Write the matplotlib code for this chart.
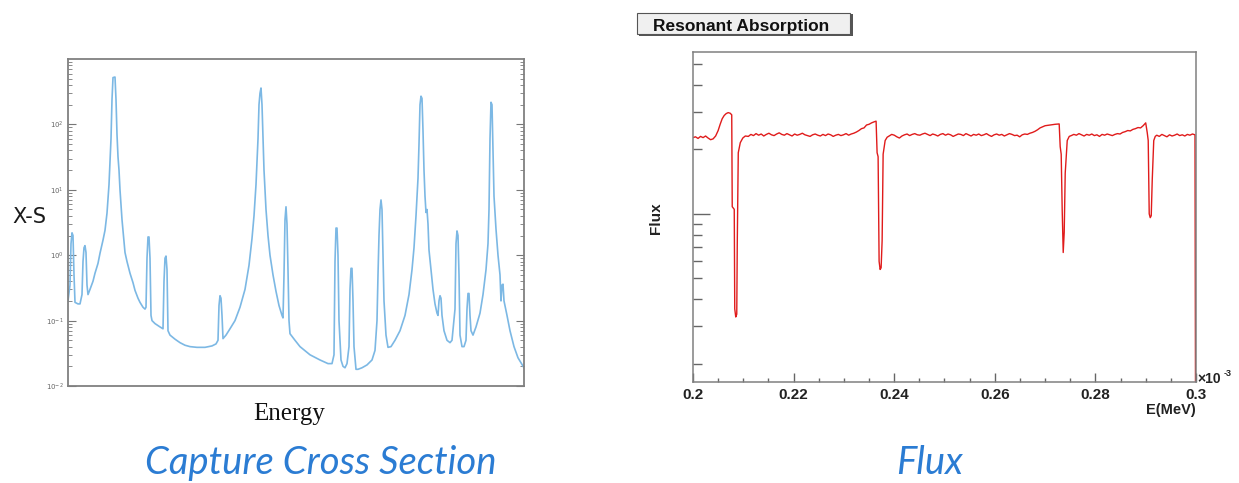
import numpy as np
import matplotlib
matplotlib.use("Agg")
import matplotlib.pyplot as plt
from matplotlib.patches import Rectangle
from matplotlib.ticker import LogLocator, NullFormatter, MultipleLocator, FixedLocator

# ---- capture cross section (arbitrary energy units, log y) ----
xs_energy = [0, 2, 3, 4, 5, 6, 7, 10, 12, 14, 15, 16, 17, 18, 19, 20, 22, 25, 27, 30,
             32, 35, 37, 39, 41, 43, 44, 45, 47, 48, 49, 50, 51, 52, 53, 54, 56, 57, 59, 62,
             65, 67, 70, 72, 75, 77, 78, 79, 80, 81, 82, 83, 84, 87, 92, 95, 96, 97, 98, 99,
             100, 102, 107, 112, 117, 122, 129, 137, 144, 148, 150, 151, 152, 153, 154, 155, 158, 162, 167, 172,
             177, 181, 184, 186, 188, 190, 191, 192, 193, 194, 195, 196, 198, 200, 202, 205, 208, 211, 214, 215,
             216, 217, 218, 219, 220, 221, 222, 227, 232, 242, 252, 260, 264, 266, 267, 268, 269, 270, 271, 273,
             275, 277, 279, 281, 282, 283, 284, 285, 286, 288, 290, 294, 299, 304, 307, 309, 310, 311, 312, 313,
             314, 315, 316, 318, 320, 323, 327, 332, 337, 341, 344, 346, 348, 350, 351, 352, 353, 354, 355, 356,
             357, 358, 359, 360, 361, 363, 365, 367, 369, 370, 371, 372, 373, 374, 376, 379, 382, 384, 387, 388,
             389, 390, 391, 392, 394, 396, 398, 399, 400, 401, 402, 403, 405, 408, 412, 415, 418, 420, 421, 422,
             423, 424, 425, 426, 428, 430, 432, 433, 434, 435, 436, 439, 442, 446, 450, 456]
xs_value = [0.2, 0.35, 1.5, 2.2, 2.0, 0.5, 0.19, 0.18, 0.18, 0.25, 0.8, 1.3, 1.4, 1.1, 0.35, 0.25, 0.3, 0.4, 0.53, 0.75,
            1.07, 1.7, 2.4, 4.4, 12, 60, 240, 520, 530, 240, 70, 32, 20, 10, 6, 3.5, 1.6, 1.1, 0.8, 0.53,
            0.38, 0.29, 0.22, 0.19, 0.16, 0.15, 0.16, 0.9, 1.9, 1.9, 0.9, 0.12, 0.1, 0.09, 0.08, 0.075, 0.4, 0.9, 0.97, 0.6,
            0.07, 0.06, 0.052, 0.046, 0.042, 0.040, 0.039, 0.039, 0.041, 0.044, 0.05, 0.17, 0.24, 0.22, 0.12, 0.053, 0.06, 0.075, 0.1, 0.16,
            0.3, 0.7, 1.8, 4, 12, 60, 200, 300, 360, 200, 60, 20, 5, 2, 1.0, 0.5, 0.28, 0.17, 0.12, 0.11,
            0.5, 3.5, 5.5, 3, 0.6, 0.1, 0.063, 0.05, 0.04, 0.03, 0.025, 0.022, 0.022, 0.03, 0.8, 2.6, 2.6, 1.0, 0.1, 0.025,
            0.02, 0.019, 0.022, 0.04, 0.3, 0.63, 0.63, 0.2, 0.04, 0.018, 0.018, 0.019, 0.021, 0.025, 0.035, 0.1, 0.5, 2, 5, 7,
            5, 1, 0.2, 0.06, 0.039, 0.04, 0.05, 0.07, 0.12, 0.25, 0.6, 1.3, 4, 15, 50, 200, 270, 250, 80, 20,
            8, 4.5, 5, 3, 1.2, 0.6, 0.3, 0.18, 0.13, 0.12, 0.2, 0.24, 0.22, 0.12, 0.07, 0.05, 0.046, 0.05, 0.15, 1.5,
            2.35, 2.0, 0.5, 0.06, 0.04, 0.04, 0.05, 0.15, 0.26, 0.26, 0.12, 0.07, 0.06, 0.08, 0.13, 0.25, 0.6, 1.5, 5, 60,
            218, 200, 40, 8, 2.5, 1.0, 0.5, 0.2, 0.35, 0.36, 0.2, 0.12, 0.07, 0.04, 0.027, 0.019]
xs_ticks = [1e-2, 1e-1, 1e0, 1e1, 1e2]
xs_ticklabels = ["10$^{-2}$", "10$^{-1}$", "10$^{0}$", "10$^{1}$", "10$^{2}$"]

# ---- flux, E in units of 1e-3 MeV ----
seg_a = [2.27, 2.29, 2.25, 2.30, 2.27, 2.31, 2.26, 2.22, 2.24, 2.31]
bump_a_e = [0.2050, 0.2054, 0.2058, 0.2062, 0.2066, 0.2070, 0.2074, 0.2077,
            0.2078, 0.2082, 0.2083, 0.2085, 0.2087, 0.2088, 0.2090, 0.2094, 0.2099, 0.2104]
bump_a_v = [2.45, 2.62, 2.78, 2.88, 2.94, 2.97, 2.95, 2.90,
            1.08, 1.05, 0.36, 0.33, 0.34, 0.72, 1.93, 2.15, 2.26, 2.31]
seg_b = [2.30, 2.35, 2.32, 2.37, 2.33, 2.36, 2.31, 2.35, 2.38, 2.34, 2.32, 2.36, 2.39, 2.35, 2.33,
         2.37, 2.34, 2.31, 2.36, 2.33, 2.35, 2.38, 2.34, 2.32, 2.30, 2.34, 2.36, 2.33, 2.31, 2.35,
         2.32, 2.36, 2.34, 2.30, 2.33, 2.35, 2.32, 2.34, 2.37, 2.33, 2.36, 2.38, 2.41, 2.45, 2.50]
bump_b_e = [0.2340, 0.2345, 0.2350, 0.2355, 0.2360, 0.2364,
            0.2366, 0.2368, 0.2370, 0.2372, 0.2374, 0.2376, 0.2378, 0.2382, 0.2386]
bump_b_v = [2.52, 2.60, 2.62, 2.66, 2.69, 2.71,
            1.93, 1.85, 0.60, 0.55, 0.56, 0.75, 1.90, 2.20, 2.28]
seg_c = [2.31, 2.35, 2.33, 2.29, 2.26, 2.31, 2.34, 2.36, 2.32, 2.35, 2.37, 2.34, 2.33, 2.36, 2.38,
         2.35, 2.32, 2.36, 2.34, 2.31, 2.35, 2.37, 2.33, 2.36, 2.34, 2.30, 2.33, 2.36, 2.35, 2.32,
         2.37, 2.34, 2.31, 2.35, 2.33, 2.36, 2.32, 2.34, 2.37, 2.33, 2.30, 2.34, 2.36, 2.33, 2.35,
         2.31, 2.34, 2.37, 2.35, 2.32, 2.33, 2.29, 2.34, 2.36, 2.35, 2.38, 2.40, 2.43]
bump_c_e = [0.2685, 0.2690, 0.2700, 0.2710, 0.2720, 0.2728,
            0.2730, 0.2732, 0.2734, 0.2736, 0.2738, 0.2740, 0.2744, 0.2748]
bump_c_v = [2.47, 2.52, 2.58, 2.60, 2.62, 2.63,
            2.06, 1.90, 1.04, 0.66, 0.82, 1.55, 2.20, 2.30]
seg_d = [2.32, 2.35, 2.33, 2.37, 2.34, 2.31, 2.35, 2.33, 2.36, 2.32, 2.34, 2.30, 2.35, 2.33, 2.36,
         2.34, 2.32, 2.35, 2.37, 2.36, 2.40, 2.42, 2.45, 2.44, 2.48, 2.50, 2.53, 2.52, 2.58, 2.66]
bump_d_e = [0.2903, 0.2905, 0.2907, 0.2909, 0.2911, 0.2913, 0.2916, 0.2919]
bump_d_v = [2.40, 2.20, 1.00, 0.96, 0.98, 1.44, 2.20, 2.30]
seg_e = [2.33, 2.30, 2.35, 2.32, 2.29, 2.34, 2.31, 2.33, 2.36, 2.32, 2.34, 2.31, 2.35, 2.33, 2.36, 2.34]
end_e = [0.3000]
end_v = [0.01]

flux_e = np.concatenate([np.linspace(0.2000, 0.2045, len(seg_a)), bump_a_e,
                         np.linspace(0.2110, 0.2335, len(seg_b)), bump_b_e,
                         np.linspace(0.2390, 0.2680, len(seg_c)), bump_c_e,
                         np.linspace(0.2752, 0.2900, len(seg_d)), bump_d_e,
                         np.linspace(0.2922, 0.2998, len(seg_e)), end_e])
flux_v = np.concatenate([seg_a, bump_a_v, seg_b, bump_b_v, seg_c, bump_c_v,
                         seg_d, bump_d_v, seg_e, end_v])

W, H = 1239, 483
fig = plt.figure(figsize=(W / 100, H / 100), dpi=100)

def fx(px):
    return px / W

def fy(py):
    return 1 - py / H

# left panel
ax1 = fig.add_axes([fx(68), fy(386), fx(524) - fx(68), fy(59) - fy(386)])
ax1.plot(xs_energy, xs_value, color="#7cb8e4", lw=1.2)
ax1.set_yscale("log")
ax1.set_ylim(1e-2, 1e3)
ax1.set_xlim(0, 456)
ax1.set_xticks([])
ax1.set_yticks(xs_ticks)
ax1.set_yticklabels(xs_ticklabels)
ax1.yaxis.set_minor_locator(LogLocator(base=10, subs=np.arange(2, 10)))
ax1.yaxis.set_minor_formatter(NullFormatter())
ax1.tick_params(axis="y", which="both", direction="in", left=True, right=True,
                colors="#777777", labelsize=5, labelcolor="#666666", pad=3)
ax1.tick_params(axis="y", which="major", length=6, width=0.8)
ax1.tick_params(axis="y", which="minor", length=3, width=0.6)
for s in ax1.spines.values():
    s.set_color("#808080")
    s.set_linewidth(1.3)

fig.text(fx(29), fy(217), "X-S", ha="center", va="center", fontsize=15,
         family="DejaVu Sans", color="#1a1a1a")
fig.text(fx(289), fy(414), "Energy", ha="center", va="center", fontsize=18,
         family="Liberation Serif", color="#111111")
fig.text(fx(321), fy(463), "Capture Cross Section", ha="center", va="center",
         fontsize=27.5, family="Lato", style="italic", color="#2b7cd3")

# right panel
ax2 = fig.add_axes([fx(693), fy(382), fx(1196) - fx(693), fy(52) - fy(382)])
ax2.plot(flux_e, flux_v, color="#e01b1b", lw=1.0)
ax2.set_yscale("log")
ax2.set_ylim(0.164, 5.7)
ax2.set_xlim(0.2, 0.3)
ax2.yaxis.set_major_locator(FixedLocator([1.0]))
ax2.yaxis.set_minor_locator(FixedLocator([0.2, 0.3, 0.4, 0.5, 0.6, 0.7, 0.8, 0.9, 2, 3, 4, 5]))
ax2.yaxis.set_major_formatter(NullFormatter())
ax2.yaxis.set_minor_formatter(NullFormatter())
ax2.xaxis.set_minor_locator(MultipleLocator(0.005))
ax2.set_xticks([0.2, 0.22, 0.24, 0.26, 0.28, 0.3])
ax2.set_xticklabels(["0.2", "0.22", "0.24", "0.26", "0.28", "0.3"],
                    fontweight="bold", family="Liberation Sans", fontsize=11, color="#222222")
ax2.tick_params(axis="y", which="both", direction="in", left=True, right=False, colors="#666666")
ax2.tick_params(axis="y", which="major", length=12, width=1.0)
ax2.tick_params(axis="y", which="minor", length=6.5, width=1.0)
ax2.tick_params(axis="x", which="both", direction="in", bottom=True, top=False,
                colors="#666666", labelcolor="#222222", pad=4)
ax2.tick_params(axis="x", which="major", length=6.5, width=1.0)
ax2.tick_params(axis="x", which="minor", length=3, width=1.0)
for s in ax2.spines.values():
    s.set_color("#808080")
    s.set_linewidth(1.1)

fig.text(fx(656), fy(218), "Flux", rotation=90, ha="center", va="center",
         fontsize=11, fontweight="bold", family="Liberation Sans", color="#222222")
fig.text(fx(1196), fy(410), "E(MeV)", ha="right", va="center",
         fontsize=10.5, fontweight="bold", family="Liberation Sans", color="#222222")
fig.text(fx(1197), fy(379), "\u00d710", ha="left", va="center",
         fontsize=10, fontweight="bold", family="Liberation Sans", color="#222222")
fig.text(fx(1224), fy(373), "-3", ha="left", va="center",
         fontsize=6.5, fontweight="bold", family="Liberation Sans", color="#222222")
fig.text(fx(930), fy(463), "Flux", ha="center", va="center",
         fontsize=27.5, family="Lato", style="italic", color="#2b7cd3")

# title box
shadow = Rectangle((fx(639), fy(36)), fx(214), fy(14) - fy(36), transform=fig.transFigure,
                   facecolor="#555555", edgecolor="none")
box = Rectangle((fx(637), fy(34)), fx(213), fy(13) - fy(34), transform=fig.transFigure,
                facecolor="#f0f0f0", edgecolor="#555555", lw=0.8)
fig.patches.extend([shadow, box])
fig.text(fx(653), fy(24.5), "Resonant Absorption", ha="left", va="center_baseline",
         fontsize=12.5, fontweight="bold", family="Liberation Sans", color="#111111")

fig.savefig("out.png", dpi=100)
